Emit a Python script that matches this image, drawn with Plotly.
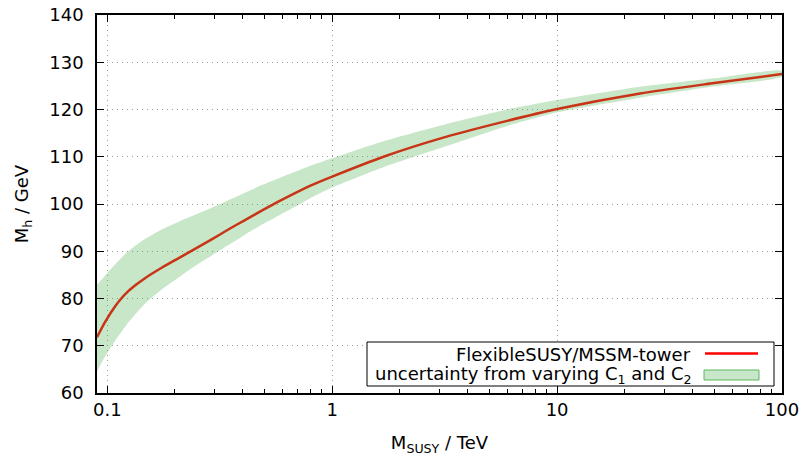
import plotly.graph_objects as go

# Data (M_SUSY in TeV, M_h in GeV)
m_susy_tev = [0.09, 0.0977, 0.1082, 0.1159, 0.124, 0.135, 0.1471, 0.1745, 0.2068, 0.2455,
              0.2912, 0.3451, 0.4095, 0.4859, 0.5759, 0.6833, 0.8105, 1.0, 1.69, 3.2,
              6.0, 10.0, 23.4, 50.0, 100.0]
mh_central = [71.8, 75.0, 78.3, 80.1, 81.55, 83.0, 84.3, 86.5, 88.5, 90.5,
              92.5, 94.6, 96.6, 98.6, 100.5, 102.3, 104.0, 105.8, 110.0, 114.2,
              117.6, 120.1, 123.4, 125.6, 127.5]
mh_upper = [82.9, 84.8, 87.2, 88.7, 90.0, 91.4, 92.6, 94.6, 96.2, 97.7,
            99.2, 100.8, 102.4, 104.0, 105.4, 106.8, 108.2, 109.7, 113.3, 116.9,
            120.0, 122.0, 124.8, 126.6, 128.2]
mh_lower = [64.6, 67.7, 71.0, 73.0, 74.9, 77.0, 78.9, 81.9, 84.4, 86.9,
            89.1, 91.3, 93.5, 95.6, 97.5, 99.4, 101.4, 103.5, 107.8, 112.2,
            116.5, 119.4, 122.5, 124.9, 127.0]

x_tickvals = [0.1, 1, 10, 100]
x_ticktext = ["0.1", "1", "10", "100"]
y_tickvals = [60, 70, 80, 90, 100, 110, 120, 130, 140]

FONT = "DejaVu Sans"
FS = 18
band_fill = "rgba(72,172,72,0.3)"

fig = go.Figure()

# central line (drawn first so the transparent band tints it, as in the reference)
fig.add_trace(go.Scatter(
    x=m_susy_tev, y=mh_central, mode="lines",
    line=dict(color="#ff0000", width=2.5, shape="spline", smoothing=0.6),
    name="FlexibleSUSY/MSSM-tower", showlegend=False, hoverinfo="skip"))

# uncertainty band as a closed polygon
fig.add_trace(go.Scatter(
    x=m_susy_tev + m_susy_tev[::-1], y=mh_upper + mh_lower[::-1],
    mode="lines", fill="toself", fillcolor=band_fill,
    line=dict(width=0, color="rgba(0,0,0,0)", shape="spline", smoothing=0.6),
    name="uncertainty", showlegend=False, hoverinfo="skip"))

axis_common = dict(
    showline=True, linecolor="black", linewidth=1.5, mirror="allticks",
    ticks="inside", ticklen=7, tickcolor="black", tickwidth=1,
    showgrid=True, gridcolor="#9a9a9a", griddash="1px,4px", gridwidth=1,
    zeroline=False, automargin=False,
    tickfont=dict(family=FONT, size=FS, color="black"),
)

fig.update_xaxes(
    type="log", range=[-1.0457575, 2.0],
    tickvals=x_tickvals, ticktext=x_ticktext,
    minor=dict(ticks="inside", ticklen=4, tickcolor="black", showgrid=False, dtick="D1"),
    title=dict(text="M<sub>SUSY</sub> / TeV", font=dict(family=FONT, size=FS, color="black"), standoff=27),
    ticklabelstandoff=0,
    **axis_common)
fig.update_yaxes(
    range=[60, 140], tickvals=y_tickvals,
    title=dict(text="M<sub>h</sub> / GeV", font=dict(family=FONT, size=FS, color="black"), standoff=16),
    ticklabelstandoff=8,
    **axis_common)

# gnuplot-style legend box (bottom right)
def px_x(p):
    return (p - 97) / 685.0

def px_y(p):
    return (393 - p) / 378.0

shapes = [
    dict(type="rect", xref="paper", yref="paper",
         x0=px_x(367), x1=px_x(774), y0=px_y(386), y1=px_y(342),
         line=dict(color="black", width=1), fillcolor="white", layer="above"),
    dict(type="line", xref="paper", yref="paper",
         x0=px_x(705), x1=px_x(758), y0=px_y(353.5), y1=px_y(353.5),
         line=dict(color="#ff0000", width=2.5), layer="above"),
    dict(type="rect", xref="paper", yref="paper",
         x0=px_x(704), x1=px_x(759), y0=px_y(380), y1=px_y(370),
         line=dict(color="#5cb85c", width=1), fillcolor="rgb(200,230,201)", layer="above"),
]
annotations = [
    dict(xref="paper", yref="paper", x=px_x(693), y=px_y(354), xanchor="right", yanchor="middle",
         text="FlexibleSUSY/MSSM-tower", showarrow=False,
         font=dict(family=FONT, size=FS, color="black")),
    dict(xref="paper", yref="paper", x=px_x(694), y=px_y(375), xanchor="right", yanchor="middle",
         text="uncertainty from varying C<sub>1</sub> and C<sub>2</sub>", showarrow=False,
         font=dict(family=FONT, size=FS, color="black")),
]

fig.update_layout(
    width=804, height=456,
    margin=dict(l=97, r=22, t=15, b=63),
    paper_bgcolor="white", plot_bgcolor="white",
    font=dict(family=FONT, size=FS, color="black"),
    shapes=shapes, annotations=annotations, showlegend=False,
)

fig.write_html("out.html")
